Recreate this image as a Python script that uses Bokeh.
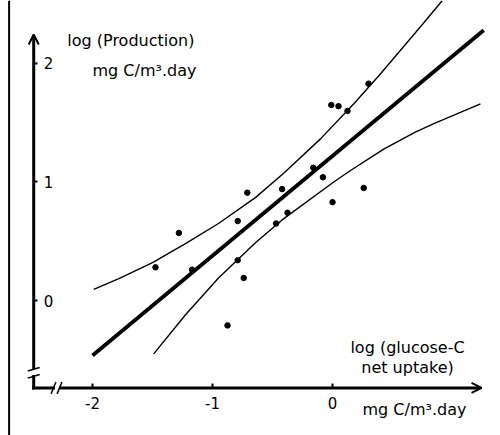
from bokeh.plotting import figure
from bokeh.models import LinearAxis, FixedTicker, Range1d, Arrow, OpenHead, Label, Span
from bokeh.embed import file_html
from bokeh.resources import INLINE

# ---- data ----
obs_x = [-1.475, -1.28, -1.17, -0.875, -0.79, -0.79, -0.74, -0.71, -0.47, -0.42,
         -0.375, -0.16, -0.08, 0.0, -0.01, 0.05, 0.125, 0.26, 0.30]
obs_y = [0.28, 0.57, 0.26, -0.21, 0.67, 0.34, 0.19, 0.91, 0.65, 0.94,
         0.74, 1.12, 1.04, 0.83, 1.65, 1.64, 1.60, 0.95, 1.83]

fit_x = [-2.0, 1.26]
fit_y = [-0.464, 2.28]

upper_x = [-1.99, -1.78, -1.50, -1.225, -0.95, -0.64, -0.40, -0.10, 0.178, 0.406, 0.733, 0.914]
upper_y = [0.093, 0.185, 0.32, 0.48, 0.65, 0.87, 1.08, 1.364, 1.66, 1.92, 2.31, 2.53]

lower_x = [-1.49, -1.225, -0.95, -0.64, -0.42, 0.01, 0.15, 0.43, 0.69, 0.84, 1.233]
lower_y = [-0.45, -0.12, 0.19, 0.49, 0.68, 1.00, 1.097, 1.28, 1.42, 1.49, 1.66]

x_ticks = [-2, -1, 0]
x_tick_labels = ["-2", "-1", "0"]
y_ticks = [0, 1, 2]
y_tick_labels = ["0", "1", "2"]

y_title_lines = ["log (Production)", "mg C/m\u00b3.day"]
x_title_lines = ["log (glucose-C", "net uptake)"]
x_unit = "mg C/m\u00b3.day"

FONT = "DejaVu Sans"
INK = "black"

p = figure(width=500, height=435,
           x_range=Range1d(-2.7667, 1.4), y_range=Range1d(-1.1392, 2.5316),
           x_axis_type=None, y_axis_type=None,
           toolbar_location=None, output_backend="svg", min_border=0)
p.outline_line_color = None
p.background_fill_color = "white"
p.border_fill_color = "white"

# axes (ticks + labels only; lines drawn separately)
AX_X = -2.49    # data x of the vertical axis
AX_Y = -0.738   # data y of the horizontal axis

yaxis = LinearAxis(fixed_location=AX_X, ticker=FixedTicker(ticks=y_ticks),
                   major_label_overrides=dict(zip([float(t) for t in y_ticks], y_tick_labels)))
yaxis.axis_line_color = None
yaxis.major_tick_in = 0
yaxis.major_tick_out = 4
yaxis.major_tick_line_width = 2
yaxis.major_tick_line_color = INK
yaxis.minor_tick_line_color = None
yaxis.major_label_standoff = 6
yaxis.major_label_text_font = FONT
yaxis.major_label_text_font_size = "15px"
yaxis.major_label_text_color = INK
yaxis.major_label_orientation = "horizontal"
p.add_layout(yaxis, "right")

xaxis = LinearAxis(fixed_location=AX_Y, ticker=FixedTicker(ticks=x_ticks),
                   major_label_overrides=dict(zip([float(t) for t in x_ticks], x_tick_labels)))
xaxis.axis_line_color = None
xaxis.major_tick_in = 4
xaxis.major_tick_out = 0
xaxis.major_tick_line_width = 2
xaxis.major_tick_line_color = INK
xaxis.minor_tick_line_color = None
xaxis.major_label_standoff = 9
xaxis.major_label_text_font = FONT
xaxis.major_label_text_font_size = "15px"
xaxis.major_label_text_color = INK
p.add_layout(xaxis, "below")

# axis lines with arrows and breaks
p.add_layout(Arrow(end=OpenHead(size=10, line_width=2, line_color=INK),
                   x_start=AX_X, y_start=-0.582, x_end=AX_X, y_end=2.245,
                   line_width=3, line_color=INK))
p.add_layout(Arrow(end=OpenHead(size=10, line_width=2, line_color=INK),
                   x_start=-2.275, y_start=AX_Y, x_end=1.242, y_end=AX_Y,
                   line_width=3, line_color=INK))
p.segment(x0=[AX_X, AX_X], y0=[AX_Y, AX_Y], x1=[AX_X, -2.325], y1=[-0.641, AX_Y],
          line_width=3, line_color=INK, line_cap="square")
# break marks
p.segment(x0=[AX_X - 0.05, AX_X - 0.05, -2.345, -2.295],
          y0=[-0.595, -0.655, AX_Y - 0.05, AX_Y - 0.05],
          x1=[AX_X + 0.05, AX_X + 0.05, -2.305, -2.255],
          y1=[-0.565, -0.625, AX_Y + 0.05, AX_Y + 0.05],
          line_width=1.5, line_color=INK)

# left border of the scanned page
p.add_layout(Span(location=-2.695, dimension="height", line_width=2, line_color=INK))

# confidence curves and fitted line
p.line(upper_x, upper_y, line_width=1.4, line_color=INK, line_join="round")
p.line(lower_x, lower_y, line_width=1.4, line_color=INK, line_join="round")
p.line(fit_x, fit_y, line_width=3.8, line_color=INK)

# observations
p.scatter(obs_x, obs_y, size=5.5, fill_color=INK, line_color=INK)

# titles
common = dict(text_font=FONT, text_font_size="16px", text_baseline="middle", text_color=INK)
p.add_layout(Label(x=-2.21, y=2.194, text=y_title_lines[0], **common))
p.add_layout(Label(x=-2.0, y=1.94, text=y_title_lines[1], **common))
p.add_layout(Label(x=0.625, y=-0.397, text=x_title_lines[0], text_align="center", **common))
p.add_layout(Label(x=0.625, y=-0.565, text=x_title_lines[1], text_align="center", **common))
p.add_layout(Label(x=0.25, y=-0.92, text=x_unit, **common))

open("out.html", "w").write(file_html(p, INLINE))
